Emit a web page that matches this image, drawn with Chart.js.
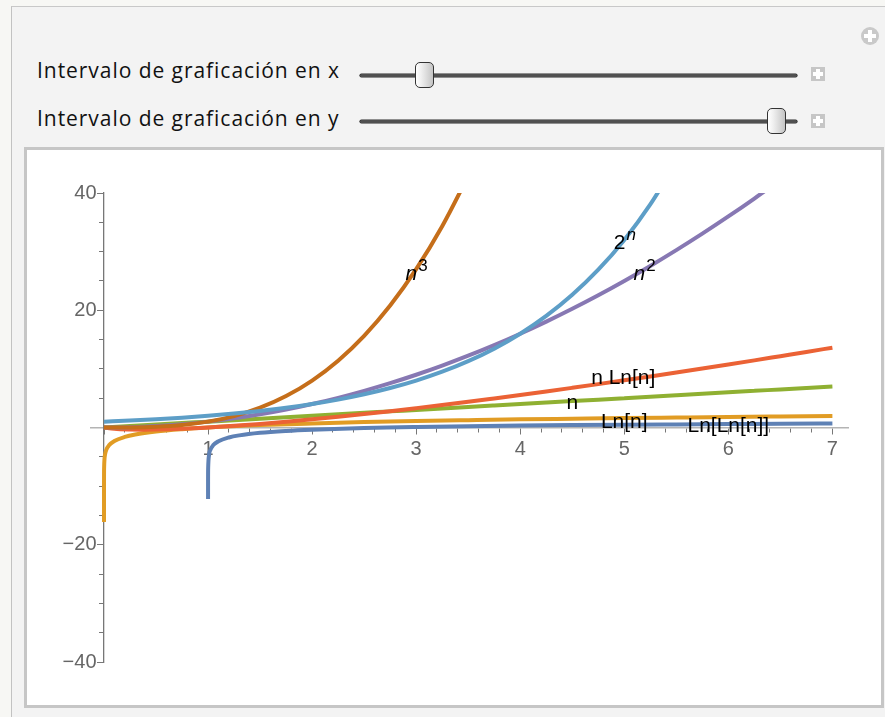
<!DOCTYPE html>
<html>
<head>
<meta charset="utf-8">
<script src="https://cdn.jsdelivr.net/npm/chart.js@4.4.1/dist/chart.umd.min.js"></script>
<style>
  html, body { margin: 0; padding: 0; }
  body { width: 885px; height: 717px; position: relative; overflow: hidden; background: #f7f7f4; font-family: "Open Sans", sans-serif; }
  #panel { position: absolute; left: 11px; top: 6px; width: 890px; height: 720px; background: #f3f3f3; border-left: 1px solid #c2c2c2; border-top: 1px solid #c8c8c8; }
  .ctl { position: absolute; left: 37px; font-size: 21px; letter-spacing: 0.95px; line-height: 24px; color: #111; white-space: nowrap; }
  .track { position: absolute; left: 360px; width: 437px; height: 3px; background: #505050; border-radius: 2px; box-shadow: 0 0 0 0.6px #2a2a2a; }
  .thumb { position: absolute; width: 17px; height: 24px; border: 1px solid #333; border-radius: 5px; background: linear-gradient(to right, #ffffff, #f0f0f0 30%, #c4c4c4); }
  .sq { position: absolute; left: 811px; width: 14px; height: 14px; background: #c6c6c6; }
  .sq::before, .sq::after, .circ::before, .circ::after { content: ""; position: absolute; background: #fff; }
  .sq::before { left: 5px; top: 2px; width: 4px; height: 10px; }
  .sq::after { left: 2px; top: 5px; width: 10px; height: 4px; }
  .circ { position: absolute; left: 861px; top: 27px; width: 18px; height: 18px; border-radius: 50%; background: #c9c9c9; }
  .circ::before { left: 7px; top: 3px; width: 4px; height: 12px; }
  .circ::after { left: 3px; top: 7px; width: 12px; height: 4px; }
  #plotbox { position: absolute; left: 24px; top: 147px; width: 854px; height: 555px; border: 3px solid #c6c6c6; background: #fff; }
  #chart { position: absolute; left: 0; top: 0; }
</style>
</head>
<body>
<div id="panel"></div>
<div class="circ"></div>
<div class="ctl" style="top:58px">Intervalo de graficación en x</div>
<div class="track" style="top:74px"></div>
<div class="thumb" style="left:415px; top:62px"></div>
<div class="sq" style="top:67px"></div>
<div class="ctl" style="top:106px">Intervalo de graficación en y</div>
<div class="track" style="top:120px"></div>
<div class="thumb" style="left:767px; top:108px"></div>
<div class="sq" style="top:114px"></div>
<div id="plotbox"><canvas id="chart" width="854" height="555"></canvas></div>
<script>
// sample points
const stepX = [0, 0.25, 0.5, 0.75, 1, 1.25, 1.5, 1.75, 2, 2.25, 2.5, 2.75, 3, 3.25, 3.5,
  3.75, 4, 4.25, 4.5, 4.75, 5, 5.25, 5.5, 5.75, 6, 6.25, 6.5, 6.75, 7];

const nVals = [0, 0.25, 0.5, 0.75, 1, 1.25, 1.5, 1.75, 2, 2.25, 2.5, 2.75, 3, 3.25, 3.5,
  3.75, 4, 4.25, 4.5, 4.75, 5, 5.25, 5.5, 5.75, 6, 6.25, 6.5, 6.75, 7];
const nSqVals = [0, 0.06, 0.25, 0.56, 1, 1.56, 2.25, 3.06, 4, 5.06, 6.25, 7.56, 9, 10.56, 12.25,
  14.06, 16, 18.06, 20.25, 22.56, 25, 27.56, 30.25, 33.06, 36, 39.06, 42.25];
const twoPowVals = [1, 1.19, 1.41, 1.68, 2, 2.38, 2.83, 3.36, 4, 4.76, 5.66, 6.73, 8, 9.51, 11.31,
  13.45, 16, 19.03, 22.63, 26.91, 32, 38.05, 45.25];
const nCubeVals = [0, 0.02, 0.13, 0.42, 1, 1.95, 3.38, 5.36, 8, 11.39, 15.63, 20.8, 27, 34.33, 42.88];

const nLnX = [0, 0.1, 0.25, 0.37, 0.5, 0.75, 1, 1.25, 1.5, 1.75, 2, 2.25, 2.5, 2.75, 3, 3.25, 3.5,
  3.75, 4, 4.25, 4.5, 4.75, 5, 5.25, 5.5, 5.75, 6, 6.25, 6.5, 6.75, 7];
const nLnVals = [0, -0.23, -0.35, -0.37, -0.35, -0.22, 0, 0.28, 0.61, 0.98, 1.39, 1.82, 2.29, 2.78,
  3.3, 3.83, 4.38, 4.96, 5.55, 6.15, 6.77, 7.4, 8.05, 8.71, 9.38, 10.06, 10.75, 11.45, 12.17, 12.89, 13.62];

const lnX = [1e-7, 1e-6, 1e-5, 1e-4, 0.001, 0.005, 0.01, 0.02, 0.05, 0.1, 0.2, 0.3, 0.5, 0.75, 1,
  1.5, 2, 2.5, 3, 3.5, 4, 4.5, 5, 5.5, 6, 6.5, 7];
const lnVals = [-16.1, -13.8, -11.5, -9.2, -6.9, -5.3, -4.6, -3.9, -3.0, -2.3, -1.61, -1.2, -0.69, -0.29, 0,
  0.41, 0.69, 0.92, 1.1, 1.25, 1.39, 1.5, 1.61, 1.7, 1.79, 1.87, 1.95];

const lnLnX = [1.000005, 1.0001, 1.001, 1.01, 1.02, 1.05, 1.1, 1.2, 1.3, 1.5, 1.75, 2, 2.5, 2.718,
  3, 3.5, 4, 4.5, 5, 5.5, 6, 6.5, 7];
const lnLnVals = [-12.2, -9.2, -6.9, -4.6, -3.9, -3.0, -2.35, -1.7, -1.34, -0.9, -0.58, -0.37, -0.09, 0,
  0.09, 0.23, 0.33, 0.41, 0.48, 0.53, 0.58, 0.63, 0.67];

const xTickLabels = [1, 2, 3, 4, 5, 6, 7];
const yTickLabels = [-40, -20, 20, 40];

// curve labels, anchored at baseline centre in data units
const curveLabels = [
  { x: 3.0, y: 25.2, text: 'n', it: true, sup: '3' },
  { x: 5.0, y: 30.5, text: '2', sup: 'n', supIt: true },
  { x: 5.19, y: 25.2, text: 'n', it: true, sup: '2' },
  { x: 4.99, y: 7.5, text: 'n Ln[n]' },
  { x: 4.5, y: 3.24, text: 'n' },
  { x: 5.0, y: 0.0, text: 'Ln[n]' },
  { x: 6.0, y: -0.85, text: 'Ln[Ln[n]]' },
];

const pts = (xs, ys) => ys.map((y, i) => ({ x: xs[i], y }));

const xTicks = [];
for (let i = 0; i <= 35; i++) xTicks.push(Math.round(i * 2) / 10);
const yTicks = [];
for (let v = -40; v <= 40; v += 5) yTicks.push(v);

const fontName = '"Liberation Sans", Arial, sans-serif';

const labelPlugin = {
  id: 'curveLabels',
  afterDatasetsDraw(chart) {
    const { ctx, scales: { x, y } } = chart;
    ctx.save();
    ctx.fillStyle = '#000';
    ctx.textBaseline = 'alphabetic';
    ctx.textAlign = 'left';
    curveLabels.forEach((l) => {
      const f1 = (l.it ? 'italic ' : '') + '21px ' + fontName;
      const f2 = (l.supIt ? 'italic ' : '') + '17px ' + fontName;
      ctx.font = f1;
      const w1 = ctx.measureText(l.text).width;
      let w2 = 0;
      if (l.sup) { ctx.font = f2; w2 = ctx.measureText(l.sup).width; }
      const px = x.getPixelForValue(l.x) - (w1 + w2) / 2;
      const py = y.getPixelForValue(l.y);
      ctx.font = f1;
      ctx.fillText(l.text, px, py);
      if (l.sup) { ctx.font = f2; ctx.fillText(l.sup, px + w1 + 1, py - 9); }
    });
    ctx.restore();
  }
};

const line = (data, color) => ({
  data, borderColor: color, borderWidth: 4, pointRadius: 0,
  cubicInterpolationMode: 'monotone', fill: false
});

const yTickFn = (s) => { s.ticks = yTicks.map((v) => ({ value: v })); };

new Chart(document.getElementById('chart'), {
  type: 'line',
  data: {
    datasets: [
      line(pts(stepX, twoPowVals), '#5D9EC7'),
      line(pts(stepX, nCubeVals), '#C56E1A'),
      line(pts(stepX, nSqVals), '#8778B3'),
      line(pts(nLnX, nLnVals), '#EB6235'),
      line(pts(stepX, nVals), '#8FB032'),
      line(pts(lnX, lnVals), '#E19C24'),
      line(pts(lnLnX, lnLnVals), '#5E81B5'),
    ]
  },
  options: {
    responsive: false,
    animation: false,
    devicePixelRatio: 1,
    layout: { padding: { left: 64, right: 33, top: 43, bottom: 43 } },
    plugins: { legend: { display: false }, tooltip: { enabled: false } },
    scales: {
      x: {
        type: 'linear', min: -0.125, max: 7.15, position: { y: 0 },
        afterBuildTicks: (s) => { s.ticks = xTicks.map((v) => ({ value: v })); },
        afterFit: (s) => { s.height = 0; },
        border: { color: '#b4b4b4', width: 1.5 },
        grid: {
          drawOnChartArea: false, tickLength: 6, tickColor: '#777', tickWidth: 1,
          tickBorderDash: (c) => (Number.isInteger(c.tick.value) ? [] : [4, 20])
        },
        ticks: {
          autoSkip: false, maxRotation: 0, padding: 4, color: '#666',
          font: { family: fontName, size: 20 },
          callback: (v) => (xTickLabels.includes(v) ? String(v) : '')
        }
      },
      // axis line and tick marks at x = 0
      y: {
        type: 'linear', min: -40, max: 40, position: { x: 0 },
        afterBuildTicks: yTickFn,
        afterFit: (s) => { s.width = 0; },
        border: { color: '#777', width: 1.3 },
        grid: {
          drawOnChartArea: false, tickLength: 6, tickColor: '#777', tickWidth: 1,
          tickBorderDash: (c) => (c.tick.value % 20 === 0 ? [] : [4, 20])
        },
        ticks: { display: false }
      },
      // tick labels, set a little left of the axis line
      yLabels: {
        type: 'linear', min: -40, max: 40, position: { x: -0.072 },
        afterBuildTicks: yTickFn,
        afterFit: (s) => { s.width = 0; },
        border: { display: false },
        grid: { display: false },
        ticks: {
          autoSkip: false, color: '#666',
          font: { family: fontName, size: 20 },
          callback: (v) => (yTickLabels.includes(v) ? (v < 0 ? '\u2212' + Math.abs(v) : String(v)) : '')
        }
      }
    }
  },
  plugins: [labelPlugin]
});
</script>
</body>
</html>
